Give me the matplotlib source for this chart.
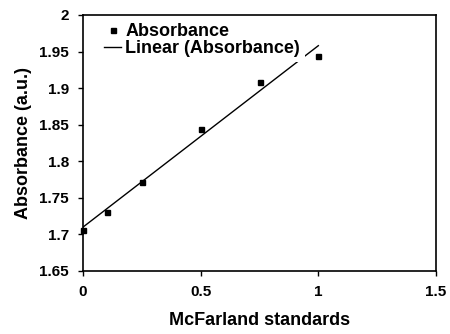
import numpy as np
import matplotlib.pyplot as plt

plt.rcParams['font.family'] = ['Liberation Sans', 'DejaVu Sans']
plt.rcParams['font.weight'] = 'bold'

# McFarland standards vs absorbance
mcfarland = [0, 0.1, 0.25, 0.5, 0.75, 1.0]
absorbance = [1.706, 1.731, 1.771, 1.844, 1.909, 1.944]

x_ticks = [0, 0.5, 1, 1.5]
x_tick_labels = ['0', '0.5', '1', '1.5']
y_ticks = [1.65, 1.7, 1.75, 1.8, 1.85, 1.9, 1.95, 2]
y_tick_labels = ['1.65', '1.7', '1.75', '1.8', '1.85', '1.9', '1.95', '2']

fig = plt.figure(figsize=(4.5, 3.34), dpi=100)
ax = fig.add_axes([83 / 450, 63 / 334, 353 / 450, 256 / 334])

# linear trendline, like the spreadsheet one
slope, intercept = np.polyfit(mcfarland, absorbance, 1)
xfit = np.array([min(mcfarland), max(mcfarland)])
ax.plot(xfit, slope * xfit + intercept, color='black', lw=1, label='Linear (Absorbance)', zorder=2)
ax.plot(mcfarland, absorbance, 's', color='black', ms=3.6, label='Absorbance', zorder=3, clip_on=False)

ax.set_xlim(0, 1.5)
ax.set_ylim(1.65, 2)
ax.set_xticks(x_ticks)
ax.set_xticklabels(x_tick_labels, fontweight='bold')
ax.set_yticks(y_ticks)
ax.set_yticklabels(y_tick_labels, fontweight='bold')
ax.tick_params(direction='out', length=3.6, width=1, labelsize=11, pad=6.5)
for s in ax.spines.values():
    s.set_linewidth(1.2)

ax.set_xlabel('McFarland standards', fontsize=13, fontweight='bold', labelpad=9)
ax.set_ylabel('Absorbance (a.u.)', fontsize=13, fontweight='bold', labelpad=5)

h, l = ax.get_legend_handles_labels()
leg = ax.legend(h[::-1], l[::-1], loc='upper left', bbox_to_anchor=(0.045, 0.99),
                frameon=True, framealpha=1, edgecolor='none', fancybox=False,
                prop={'size': 13, 'weight': 'bold'}, handlelength=0.95, handletextpad=0.2,
                borderpad=0.3, labelspacing=0.0, borderaxespad=0)
leg.set_zorder(5)

fig.savefig('out.png', dpi=100)
